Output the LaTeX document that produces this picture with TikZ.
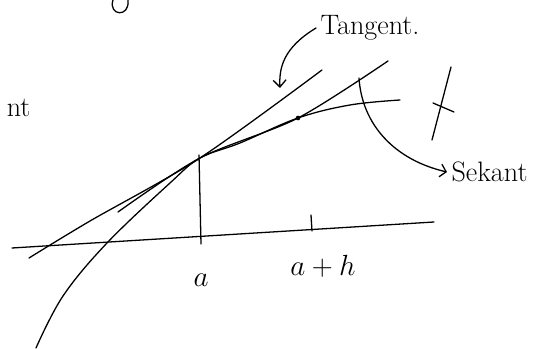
\documentclass[tikz,border=0pt]{standalone}
\usepackage{tikz}
\usetikzlibrary{arrows.meta}
\tikzset{pen/.style={line width=1.1pt, line cap=round, line join=round},
    hand/.style={font=\fontsize{24}{28}\selectfont}}

\begin{document}
\begin{tikzpicture}[x=0.03cm, y=-0.03cm, pen]
    \useasboundingbox (0,0) rectangle (556,349);

    \coordinate (A) at (200,158);
    \node[shape=circle, fill=black, inner sep=0pt, minimum size=4pt] (B) at (298,118) {};
    \coordinate (C) at (12,248);
    \coordinate (D) at (434,222);
    \coordinate (E) at (199,155);
    \coordinate (F) at (201,244);
    \coordinate (V) at (311,215);
    \coordinate (W) at (312,231);
    \coordinate (P) at (118,212);
    \coordinate (Q) at (388,61);
    \coordinate (R) at (29,258);
    \coordinate (U) at (322,70);
    \coordinate (J) at (359,78);
    \coordinate (I) at (280,88);

    \node[hand] (G) at (201,280) {$a$};
    \node[hand] (H) at (323,266) {$a+h$};
    \node[hand] (T) at (370,28) {Tangent.};
    \node[hand, anchor=west] (S) at (447,172) {Sekant};
    \node[hand, anchor=base east, inner sep=0pt] (N) at (31,117) {nt};

    \draw (C) -- (D);
    \draw (E) -- (F);
    \draw (V) -- (W);
    \draw plot[smooth, tension=0.6] coordinates {(36,348) (63,296) (107,243) (170,183) (A) (240,143) (B) (350,105) (400,100)};
    \draw plot[smooth, tension=0.5] coordinates {(R) (90,221) (A) (U)};
    \draw plot[smooth, tension=0.5] coordinates {(P) (A) (B) (Q)};
    \draw[-{Straight Barb[length=6pt, width=11pt]}] (T.west) .. controls (283,48) and (279,68) .. (I);
    \draw[-{Straight Barb[length=5pt, width=11pt]}] (J) .. controls (362,125) and (395,160) .. (S.west);

    \coordinate (K1) at (451,67);
    \coordinate (K2) at (432,140);
    \coordinate (K3) at (433,103);
    \coordinate (K4) at (454,112);
    \draw (K1) -- (K2);
    \draw (K3) -- (K4);
    \draw (113,0) .. controls (108,16) and (130,18) .. (128,0);
\end{tikzpicture}
\end{document}
